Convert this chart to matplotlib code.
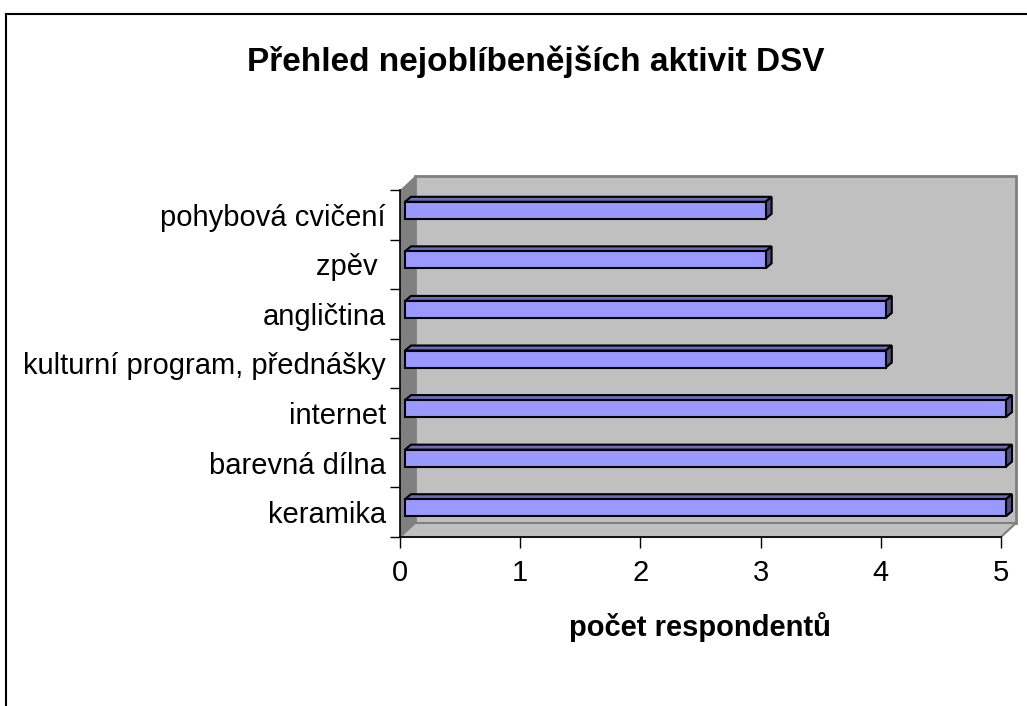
import matplotlib
matplotlib.use('Agg')
import matplotlib.pyplot as plt
from matplotlib.patches import Polygon, Rectangle

plt.rcParams['font.family'] = ['Liberation Sans', 'DejaVu Sans']

# data, bottom to top
categories = ['keramika', 'barevná dílna', 'internet', 'kulturní program, přednášky',
              'angličtina', 'zpěv ', 'pohybová cvičení']
values = [5, 5, 5, 4, 4, 3, 3]
x_ticks = [0, 1, 2, 3, 4, 5]

title = 'Přehled nejoblíbenějších aktivit DSV'
xlabel = 'počet respondentů'

W, H = 1027, 706
fig = plt.figure(figsize=(W / 100, H / 100), dpi=100)

# plot area (front plane) in pixels
x0, x1, ytop, ybot = 400, 1001, 190, 537
ax = fig.add_axes([x0 / W, 1 - ybot / H, (x1 - x0) / W, (ybot - ytop) / H])
n = len(categories)
ax.set_xlim(0, 5)
ax.set_ylim(-0.5, n - 0.5)

# pixel -> data helpers
sx = 5 / (x1 - x0)
sy = n / (ybot - ytop)


def dx(px):
    return px * sx


def dy(px):
    return px * sy


# 3d box: back wall, left wall, floor
Dx, Dy = dx(15), dy(14)
lo, hi = -0.5, n - 0.5
ax.add_patch(Rectangle((Dx, lo + Dy), 5, n, fc='#c0c0c0', ec='#808080', lw=2,
                       clip_on=False, zorder=0))
ax.add_patch(Polygon([(0, lo), (0, hi), (Dx, hi + Dy), (Dx, lo + Dy)],
                     closed=True, fc='#808080', ec='none', clip_on=False, zorder=1))
ax.add_patch(Polygon([(0, lo), (5, lo), (5 + Dx, lo + Dy), (Dx, lo + Dy)],
                     closed=True, fc='#c0c0c0', ec='#808080', lw=1.5, clip_on=False, zorder=1))

# bars with pseudo 3d faces
ox, oy = dx(5), dy(4.5)
bh = dy(17)
dd_x, dd_y = dx(6), dy(5)
for i, v in enumerate(values):
    yb = i - bh / 2 + oy
    yt = i + bh / 2 + oy
    xl, xr = ox, v + ox
    ax.add_patch(Polygon([(xl, yt), (xr, yt), (xr + dd_x, yt + dd_y), (xl + dd_x, yt + dd_y)],
                         closed=True, fc='#6b6bb8', ec='black', lw=1.5, clip_on=False, zorder=3))
    ax.add_patch(Polygon([(xr, yb), (xr, yt), (xr + dd_x, yt + dd_y), (xr + dd_x, yb + dd_y)],
                         closed=True, fc='#4d4d80', ec='black', lw=1.5, clip_on=False, zorder=3))
    ax.add_patch(Rectangle((xl, yb), v, bh, fc='#9999ff', ec='black', lw=1.5,
                           clip_on=False, zorder=4))

ax.set_facecolor('none')
for s in ['top', 'right']:
    ax.spines[s].set_visible(False)
for s in ['left', 'bottom']:
    ax.spines[s].set_color('black')
    ax.spines[s].set_linewidth(1.2)
    ax.spines[s].set_zorder(5)

ax.set_yticks(range(n))
ax.set_yticklabels(categories, fontsize=21)
ax.set_yticks([k - 0.5 for k in range(n + 1)], minor=True)
ax.tick_params(axis='y', which='major', length=0, pad=10)
ax.tick_params(axis='y', which='minor', length=7, width=1, color='black')

ax.set_xticks(x_ticks)
ax.set_xticklabels([str(t) for t in x_ticks], fontsize=21)
ax.tick_params(axis='x', length=8, width=1, color='black', pad=8)

fig.text(536 / W, 1 - 62 / H, title, ha='center', va='center', fontsize=24, fontweight='bold')
fig.text(700 / W, 1 - 627 / H, xlabel, ha='center', va='center', fontsize=21,
         fontweight='bold')

# outer frame (top and left edges)
fig.add_artist(plt.Line2D([6 / W, 6 / W], [0, 1 - 14 / H], color='black', lw=1.5,
                          transform=fig.transFigure))
fig.add_artist(plt.Line2D([6 / W, 1], [1 - 14 / H, 1 - 14 / H], color='black', lw=1.5,
                          transform=fig.transFigure))

fig.savefig('out.png', dpi=100)
